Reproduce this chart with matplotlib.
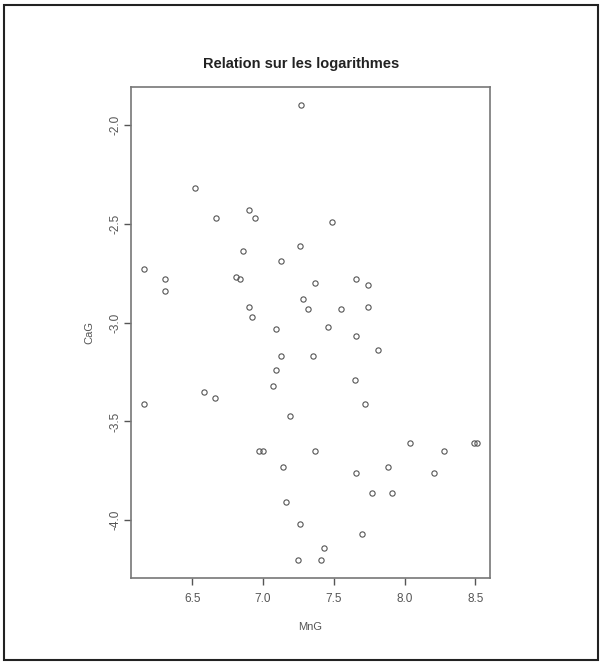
import matplotlib
matplotlib.use("Agg")
import matplotlib.pyplot as plt
from matplotlib.patches import Rectangle

# ===== DATA =====
mng = [7.27, 6.52, 6.90, 6.94, 6.67, 7.49, 7.26, 6.86, 7.13, 6.16,
       6.31, 6.81, 6.84, 7.37, 7.66, 7.74, 6.31, 7.28, 7.32, 6.90,
       7.55, 7.74, 6.92, 7.46, 7.09, 7.66, 7.81, 7.13, 7.35, 7.09,
       7.65, 7.07, 6.58, 6.66, 6.16, 7.72, 7.19, 8.04, 8.49, 8.51,
       6.97, 7.00, 7.37, 8.28, 7.14, 7.88, 7.66, 8.21, 7.77, 7.91,
       7.16, 7.26, 7.70, 7.43, 7.25, 7.41]
cag = [-1.90, -2.32, -2.43, -2.47, -2.47, -2.49, -2.61, -2.64, -2.69, -2.73,
       -2.78, -2.77, -2.78, -2.80, -2.78, -2.81, -2.84, -2.88, -2.93, -2.92,
       -2.93, -2.92, -2.97, -3.02, -3.03, -3.07, -3.14, -3.17, -3.17, -3.24,
       -3.29, -3.32, -3.35, -3.38, -3.41, -3.41, -3.47, -3.61, -3.61, -3.61,
       -3.65, -3.65, -3.65, -3.65, -3.73, -3.73, -3.76, -3.76, -3.86, -3.86,
       -3.91, -4.02, -4.07, -4.14, -4.20, -4.20]
xticks = [6.5, 7.0, 7.5, 8.0, 8.5]
yticks = [-2.0, -2.5, -3.0, -3.5, -4.0]
TITLE = "Relation sur les logarithmes"
# =========================================

plt.rcParams['font.family'] = ['Liberation Sans', 'DejaVu Sans']
GREY = "#555555"

fig = plt.figure(figsize=(6.03, 6.64), dpi=100)
fig.patches.append(Rectangle((0.007, 0.006), 0.985, 0.987, transform=fig.transFigure,
                             fill=False, edgecolor="#222222", lw=1.5))

ax = fig.add_axes([0.2172, 0.1295, 0.5954, 0.7395])
ax.plot(mng, cag, "o", ms=3.8, mfc="none", mec=GREY, mew=0.8)

# R style 4% padding
dx = (max(mng) - min(mng)) * 0.04
dy = (max(cag) - min(cag)) * 0.04
ax.set_xlim(min(mng) - dx, max(mng) + dx)
ax.set_ylim(min(cag) - dy, max(cag) + dy)

ax.set_xticks(xticks)
ax.set_xticklabels([f"{v:.1f}" for v in xticks])
ax.set_yticks(yticks)
ax.set_yticklabels([f"{v:.1f}" for v in yticks], rotation=90, va="center")
ax.tick_params(direction="out", length=5, width=1, colors=GREY, labelsize=8.5)
ax.tick_params(axis="x", pad=6)
ax.tick_params(axis="y", pad=2)
for s in ax.spines.values():
    s.set_color("#777777")
    s.set_linewidth(1.2)

ax.set_xlabel("MnG", fontsize=8, color=GREY, labelpad=12)
ax.set_ylabel("CaG", fontsize=8, color=GREY, labelpad=11)
fig.text(0.5, 0.904, TITLE, ha="center", va="center", fontsize=10.5,
         fontweight="bold", color="#222222")

fig.savefig("out.png", dpi=100)
